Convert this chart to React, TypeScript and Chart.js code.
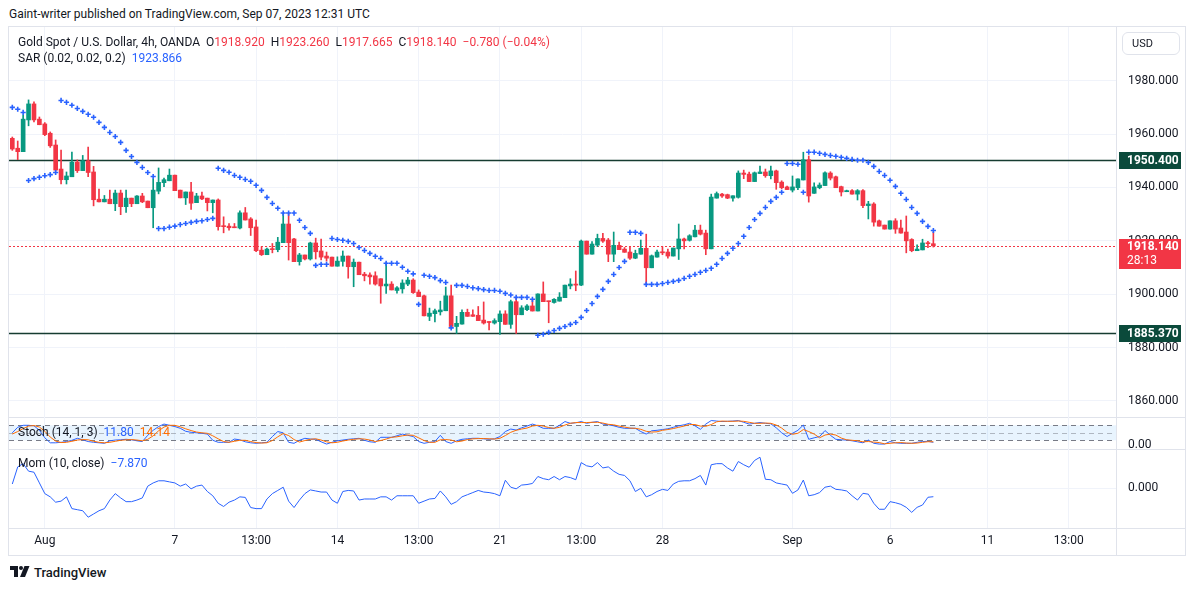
import React, { useEffect, useRef } from "react";
import { Chart, registerables } from "chart.js";
Chart.register(...registerables);

// ---------- data ----------
const opens = [
  1958.4, 1954.7, 1953.4, 1965.3, 1971.3, 1965.6, 1963.8, 1960.3, 1955.9, 1946.9,
  1942.9, 1944.0, 1949.5, 1946.3, 1950.0, 1945.8, 1935.6, 1934.6, 1935.6, 1933.9,
  1937.9, 1932.8, 1936.0, 1933.9, 1936.8, 1934.9, 1932.4, 1938.6, 1941.8, 1942.5,
  1944.6, 1939.0, 1936.1, 1938.3, 1934.3, 1936.8, 1936.0, 1934.3, 1935.3, 1925.5,
  1925.5, 1925.2, 1924.8, 1930.5, 1928.2, 1925.2, 1916.5, 1914.8, 1916.9, 1916.7,
  1919.3, 1926.3, 1920.7, 1912.2, 1914.7, 1913.2, 1919.2, 1916.2, 1914.3, 1913.9,
  1910.5, 1912.3, 1914.3, 1910.3, 1912.0, 1907.5, 1907.2, 1906.9, 1905.8, 1903.1,
  1903.8, 1901.4, 1902.0, 1903.8, 1905.3, 1900.8, 1899.4, 1891.7, 1892.7, 1893.4,
  1893.8, 1899.4, 1887.9, 1888.8, 1893.2, 1892.3, 1892.1, 1890.3, 1889.7, 1889.2,
  1889.7, 1892.6, 1888.7, 1897.2, 1892.3, 1894.2, 1895.6, 1893.7, 1900.1, 1897.4,
  1896.9, 1897.4, 1898.7, 1903.1, 1903.8, 1903.4, 1919.9, 1915.0, 1918.4, 1920.9,
  1920.3, 1915.0, 1918.3, 1916.9, 1915.8, 1913.5, 1915.0, 1917.2, 1909.9, 1913.9,
  1915.9, 1915.8, 1914.3, 1917.0, 1920.7, 1920.2, 1921.5, 1924.0, 1922.9, 1917.0,
  1936.0, 1937.5, 1937.3, 1936.0, 1936.3, 1945.4, 1945.0, 1942.2, 1945.2, 1945.8,
  1944.4, 1946.2, 1942.0, 1940.2, 1939.0, 1939.9, 1942.8, 1950.4, 1937.8, 1939.9,
  1940.7, 1945.4, 1944.0, 1940.3, 1938.4, 1938.8, 1937.5, 1938.8, 1933.2, 1933.8,
  1927.5, 1925.9, 1924.4, 1927.5, 1924.8, 1923.3, 1920.5, 1916.3, 1916.6, 1919.2,
  1918.92,
];
const highs = [
  1958.9, 1957.4, 1967.1, 1972.8, 1972.1, 1966.4, 1964.3, 1960.8, 1957.8, 1954.0,
  1945.8, 1953.3, 1950.3, 1952.0, 1955.1, 1947.9, 1939.4, 1937.0, 1939.0, 1939.0,
  1939.0, 1939.0, 1936.0, 1937.0, 1937.8, 1934.9, 1943.1, 1947.3, 1943.5, 1946.9,
  1944.6, 1939.0, 1938.3, 1941.9, 1937.8, 1938.3, 1936.0, 1935.3, 1935.7, 1929.0,
  1926.5, 1926.5, 1931.2, 1932.5, 1928.7, 1927.8, 1917.8, 1917.3, 1919.0, 1921.3,
  1930.3, 1930.3, 1920.9, 1915.3, 1914.7, 1919.5, 1921.0, 1920.7, 1915.8, 1913.9,
  1914.0, 1916.2, 1914.3, 1913.2, 1912.0, 1908.2, 1908.0, 1908.4, 1905.8, 1911.8,
  1904.7, 1902.9, 1905.4, 1906.3, 1905.8, 1901.6, 1899.7, 1894.8, 1894.4, 1897.4,
  1902.7, 1903.4, 1891.7, 1894.1, 1894.4, 1894.1, 1895.4, 1897.1, 1889.7, 1890.8,
  1893.8, 1893.8, 1897.8, 1898.7, 1895.7, 1896.1, 1897.8, 1900.1, 1904.6, 1897.4,
  1898.4, 1900.6, 1903.4, 1905.8, 1908.7, 1920.3, 1919.9, 1919.7, 1922.5, 1922.8,
  1920.9, 1923.3, 1919.5, 1917.5, 1917.8, 1916.5, 1920.3, 1922.5, 1914.7, 1916.5,
  1917.8, 1916.9, 1917.3, 1926.3, 1921.0, 1922.3, 1925.8, 1925.9, 1924.0, 1937.5,
  1938.3, 1937.8, 1937.5, 1936.9, 1946.2, 1946.5, 1945.8, 1945.8, 1948.0, 1946.9,
  1948.0, 1946.5, 1942.5, 1940.5, 1944.3, 1943.2, 1953.2, 1951.8, 1941.7, 1941.7,
  1945.9, 1945.9, 1944.3, 1940.5, 1939.0, 1939.2, 1939.2, 1939.2, 1934.8, 1934.3,
  1927.8, 1925.9, 1927.5, 1928.3, 1927.8, 1929.3, 1920.8, 1918.5, 1920.6, 1919.8,
  1923.26,
];
const lows = [
  1953.9, 1950.4, 1953.4, 1963.1, 1964.6, 1963.5, 1959.4, 1955.0, 1946.1, 1941.3,
  1941.3, 1944.0, 1945.6, 1946.3, 1944.0, 1933.1, 1934.6, 1934.6, 1933.9, 1931.3,
  1929.8, 1930.6, 1932.8, 1933.9, 1934.3, 1932.4, 1924.9, 1937.6, 1940.3, 1942.5,
  1938.8, 1936.1, 1933.6, 1931.8, 1934.3, 1935.4, 1931.2, 1930.5, 1924.0, 1923.0,
  1924.0, 1924.9, 1924.5, 1927.8, 1922.0, 1915.9, 1914.5, 1914.8, 1915.5, 1915.9,
  1919.3, 1912.8, 1912.2, 1910.9, 1912.8, 1912.8, 1913.2, 1912.8, 1912.4, 1910.5,
  1910.5, 1910.5, 1906.0, 1902.8, 1907.3, 1905.0, 1903.8, 1903.4, 1896.6, 1900.3,
  1901.6, 1900.4, 1900.4, 1903.2, 1900.3, 1899.1, 1891.9, 1890.1, 1889.6, 1892.2,
  1893.8, 1887.6, 1885.3, 1888.8, 1891.7, 1891.7, 1890.1, 1888.8, 1886.6, 1888.8,
  1884.9, 1888.7, 1887.2, 1885.3, 1892.3, 1893.8, 1893.7, 1893.7, 1897.2, 1889.3,
  1896.6, 1897.4, 1898.7, 1902.0, 1901.3, 1903.2, 1915.0, 1915.0, 1917.8, 1919.4,
  1912.2, 1912.2, 1916.7, 1915.7, 1913.0, 1913.3, 1915.0, 1903.7, 1909.9, 1913.9,
  1914.8, 1913.5, 1914.3, 1913.0, 1917.0, 1919.9, 1921.5, 1922.2, 1914.8, 1917.0,
  1936.0, 1936.3, 1935.8, 1934.9, 1936.0, 1943.3, 1942.2, 1942.2, 1945.2, 1943.8,
  1943.2, 1939.3, 1939.5, 1939.2, 1938.3, 1939.2, 1942.8, 1934.5, 1937.8, 1939.5,
  1940.7, 1942.8, 1939.9, 1936.8, 1938.4, 1937.5, 1935.3, 1932.4, 1928.2, 1925.5,
  1925.5, 1924.4, 1924.4, 1922.8, 1922.9, 1915.5, 1915.9, 1916.3, 1916.6, 1917.4,
  1917.665,
];
const closes = [
  1954.4, 1953.4, 1965.6, 1971.3, 1965.3, 1963.5, 1959.8, 1955.6, 1946.5, 1942.9,
  1944.3, 1949.5, 1946.3, 1950.0, 1945.6, 1935.4, 1934.6, 1935.6, 1933.9, 1937.9,
  1932.8, 1936.0, 1933.9, 1936.8, 1934.6, 1932.4, 1939.0, 1941.9, 1942.9, 1944.6,
  1938.8, 1936.1, 1938.3, 1934.1, 1936.8, 1935.7, 1934.3, 1935.3, 1925.3, 1925.3,
  1924.9, 1924.9, 1930.5, 1927.8, 1924.9, 1916.3, 1914.8, 1916.9, 1916.7, 1919.5,
  1926.3, 1919.3, 1912.2, 1914.7, 1913.2, 1919.2, 1915.9, 1913.9, 1913.5, 1910.5,
  1912.4, 1914.3, 1910.3, 1912.0, 1907.3, 1906.9, 1906.5, 1903.8, 1903.1, 1903.8,
  1901.6, 1902.4, 1904.2, 1905.3, 1900.6, 1899.1, 1891.9, 1892.9, 1893.8, 1894.1,
  1899.4, 1887.9, 1889.1, 1893.2, 1891.7, 1891.7, 1890.1, 1889.2, 1889.4, 1890.1,
  1892.6, 1888.7, 1897.2, 1892.3, 1894.9, 1895.6, 1893.7, 1900.1, 1897.2, 1897.2,
  1898.1, 1898.9, 1903.4, 1903.8, 1903.4, 1919.9, 1915.0, 1918.8, 1920.9, 1919.9,
  1915.0, 1918.3, 1916.7, 1915.7, 1913.5, 1915.3, 1917.2, 1909.9, 1914.4, 1915.8,
  1915.5, 1914.3, 1917.3, 1920.7, 1920.0, 1921.9, 1924.0, 1922.5, 1917.0, 1936.4,
  1937.7, 1936.8, 1936.0, 1936.9, 1945.4, 1944.9, 1942.2, 1945.5, 1945.8, 1944.4,
  1946.2, 1941.8, 1939.9, 1939.2, 1940.2, 1943.2, 1950.4, 1936.8, 1940.2, 1940.9,
  1945.5, 1943.5, 1939.9, 1938.3, 1938.8, 1937.5, 1938.8, 1933.2, 1933.8, 1927.0,
  1925.5, 1924.4, 1927.5, 1924.4, 1922.9, 1920.0, 1916.3, 1916.9, 1919.2, 1918.92,
  1918.14,
];
const sar = [
  1970.0, 1969.3, 1968.1, 1942.6, 1943.3, 1943.8, 1944.4, 1944.8, 1945.6, 1972.6,
  1971.9, 1970.8, 1969.6, 1968.5, 1967.4, 1966.3, 1964.4, 1962.5, 1960.6, 1959.1,
  1956.9, 1953.9, 1951.6, 1949.4, 1947.5, 1945.6, 1944.1, 1924.6, 1924.6, 1925.1,
  1925.5, 1926.1, 1926.5, 1926.9, 1927.3, 1927.5, 1928.0, 1928.4, 1947.2, 1946.4,
  1945.7, 1944.5, 1943.8, 1943.0, 1942.3, 1940.8, 1938.9, 1936.3, 1934.0, 1932.2,
  1930.4, 1930.4, 1930.4, 1927.7, 1925.0, 1922.8, 1910.8, 1911.2, 1911.2, 1920.9,
  1920.5, 1920.2, 1919.8, 1919.0, 1917.5, 1916.4, 1915.3, 1914.2, 1913.4, 1911.6,
  1911.6, 1911.6, 1910.1, 1908.6, 1907.6, 1896.2, 1907.1, 1906.7, 1906.2, 1905.1,
  1904.4, 1887.4, 1903.3, 1903.3, 1902.9, 1902.4, 1902.1, 1901.7, 1901.4, 1901.4,
  1901.1, 1900.3, 1899.7, 1898.8, 1898.8, 1898.8, 1898.1, 1884.6, 1885.0, 1885.7,
  1886.4, 1887.2, 1887.9, 1888.7, 1889.4, 1891.3, 1893.9, 1896.5, 1899.2, 1901.8,
  1904.8, 1907.4, 1910.0, 1912.3, 1923.2, 1923.2, 1922.8, 1903.7, 1903.7, 1903.7,
  1904.0, 1904.4, 1904.8, 1905.2, 1905.9, 1906.7, 1907.4, 1908.2, 1908.9, 1909.7,
  1911.2, 1913.4, 1915.3, 1917.2, 1919.0, 1921.7, 1925.0, 1928.0, 1930.3, 1932.5,
  1934.8, 1936.3, 1938.2, 1949.0, 1949.0, 1948.7, 1938.2, 1953.2, 1953.2, 1952.8,
  1952.4, 1952.0, 1951.7, 1951.3, 1950.9, 1950.5, 1950.2, 1950.2, 1949.4, 1947.9,
  1946.0, 1944.5, 1942.7, 1940.4, 1937.8, 1935.5, 1932.5, 1930.3, 1927.3, 1925.4,
  1923.866,
];
const stochK = [
  50, 72, 80, 80, 78, 60, 30, 10, 10, 12,
  15, 20, 28, 22, 15, 12, 10, 8, 18, 21,
  22, 24, 22, 18, 15, 40, 60, 75, 85, 80,
  75, 68, 56, 52, 50, 48, 45, 20, 12, 12,
  12, 25, 22, 14, 10, 8, 10, 12, 35, 55,
  50, 12, 8, 20, 28, 25, 24, 14, 5, 12,
  18, 21, 24, 26, 28, 20, 14, 12, 32, 32,
  32, 38, 45, 40, 35, 15, 8, 12, 15, 40,
  15, 8, 18, 24, 26, 28, 28, 26, 24, 26,
  35, 55, 65, 61, 70, 77, 85, 78, 68, 68,
  68, 80, 95, 88, 90, 95, 88, 92, 95, 85,
  82, 78, 72, 68, 68, 68, 55, 45, 58, 60,
  63, 66, 72, 78, 82, 88, 78, 64, 85, 99,
  97, 95, 96, 97, 99, 92, 85, 88, 91, 88,
  86, 70, 50, 35, 48, 60, 81, 24, 30, 35,
  59, 40, 24, 22, 21, 18, 14, 10, 21, 8,
  5, 5, 15, 10, 8, 8, 8, 12, 15, 16,
  11.8,
];
const stochD = [
  45, 55, 67, 77, 79, 73, 56, 33, 17, 11,
  12, 16, 21, 23, 22, 16, 12, 10, 12, 16,
  20, 22, 23, 21, 18, 24, 38, 58, 73, 80,
  80, 74, 66, 59, 53, 50, 48, 38, 26, 15,
  12, 16, 20, 20, 15, 11, 9, 10, 19, 34,
  47, 39, 23, 13, 19, 24, 26, 21, 14, 10,
  12, 17, 21, 24, 26, 25, 21, 15, 19, 25,
  32, 34, 38, 41, 40, 30, 19, 12, 12, 22,
  23, 21, 14, 17, 23, 26, 27, 27, 26, 25,
  28, 39, 52, 60, 65, 69, 77, 80, 77, 71,
  68, 72, 81, 88, 91, 91, 91, 92, 92, 89,
  84, 82, 77, 73, 69, 68, 64, 56, 53, 54,
  60, 63, 67, 72, 77, 83, 83, 77, 76, 83,
  94, 97, 96, 96, 97, 96, 92, 88, 88, 89,
  88, 81, 69, 52, 44, 48, 63, 55, 45, 30,
  41, 45, 41, 29, 22, 20, 18, 14, 15, 13,
  11, 6, 8, 10, 11, 9, 8, 9, 12, 14.3,
  14.14,
];
const mom = [
  4, 20, 23, 16, 15, 5, -5, -8, -13, -12,
  -8, -19, -20, -21, -27, -24, -21, -19, -11, -5,
  -9, -12.5, -12.5, -11, -9, 2, 5, 7, 7, 6,
  5, 2, 4, -0.5, 2, 3, -3, -7, -14, -17,
  -13, -11, -8, -8.5, -18, -19, -19, -10, -5, -2,
  1, -12, -18, -11, -5, -1.5, -2.5, -3.5, -3.5, -11,
  -14, -3, -2, -2.5, -11, -10, -10, -10, -8, -8,
  -11, -7, -7, -7, -7, -14, -12, -10, -9.5, -2.5,
  -8, -15, -12.5, -8, -6, -4, -2, -3.5, -4, -5,
  -7, 7.5, 1, -0.5, 3, 3.5, 4.5, 11, 9, 8,
  11, 8, 11, 10, 8, 24, 21, 20, 24, 19,
  20, 16, 13, 12, 7, -3, 0, -8, -6, -3,
  -1, -2, 4, 6.5, 7, 7, 9, 12, 3, 22,
  23, 23, 19, 16, 25, 22, 19.6, 26, 29, 8.4,
  8, 5, 4, 3, -4.7, -1.6, 7.7, -7, -6, -4,
  1, 2, -1, -1.5, -2.5, -7, -11, -4.7, -5.5, -14,
  -19.6, -19.6, -12.5, -13.5, -15, -17.8, -22.5, -17.8, -15.6, -8.4,
  -7.87,
];
const timeTickIndex = [6, 30, 45, 60, 75, 90, 105, 120, 144, 162, 180, 195];
const timeTickLabels = ["Aug", "7", "13:00", "14", "13:00", "21", "13:00", "28", "Sep", "6", "11", "13:00"];
const priceTicks = [1860, 1880, 1900, 1920, 1940, 1960, 1980];
const levels = [1950.4, 1885.37];
const stochLevels = [80, 50, 20];
const countdown = "28:13";

// ---------- styles ----------
const FONT = "Roboto, 'Noto Sans', sans-serif";
const UP = "#089981";
const DOWN = "#F23645";
const BLUE = "#2962FF";
const ORANGE = "#FF6D00";
const GRID = "#f0f3fa";
const TEXT = "#131722";
const LEVEL_LINE = "#163c31";
const LEVEL_BOX = "#0b4a3b";
const X_MIN = -0.61;
const X_MAX = 203.71;

const N = closes.length;
const IDX = Array.from({ length: N }, (_, i) => i);
const minus = (s: string) => s.replace("-", "\u2212");

const xTicks = (s: any) => {
  s.ticks = timeTickIndex.map((v) => ({ value: v }));
};

function zeroPad(s: any) {
  s.paddingLeft = 0;
  s.paddingRight = 0;
  s.paddingTop = 0;
  s.paddingBottom = 0;
}

function baseX(showLabels: boolean): any {
  return {
    type: "linear",
    min: X_MIN,
    max: X_MAX,
    offset: false,
    afterBuildTicks: xTicks,
    grid: { color: GRID, drawTicks: false, offset: false },
    border: { display: false },
    ticks: showLabels
      ? {
          autoSkip: false,
          maxRotation: 0,
          padding: 6,
          color: TEXT,
          font: { family: FONT, size: 12 },
          callback: (v: any) => timeTickLabels[timeTickIndex.indexOf(Number(v))] ?? "",
        }
      : { display: false },
    afterFit: (s: any) => {
      s.height = showLabels ? 28 : 0;
      zeroPad(s);
    },
  };
}

function baseY(min: number, max: number, ticks: number[], digits: number, grid: boolean): any {
  return {
    position: "right",
    min,
    max,
    afterBuildTicks: (s: any) => {
      s.ticks = ticks.map((v) => ({ value: v }));
    },
    ticks: {
      padding: 12,
      color: TEXT,
      font: { family: FONT, size: 12 },
      callback: (v: any) => Number(v).toFixed(digits),
    },
    grid: { display: grid, color: GRID, drawTicks: false },
    border: { display: false },
    afterFit: (s: any) => {
      s.width = 71;
      zeroPad(s);
    },
  };
}

function hDotted(ctx: any, x0: number, x1: number, y: number, color: string) {
  ctx.fillStyle = color;
  for (let x = x0; x < x1; x += 4) ctx.fillRect(x, y, 2, 1);
}

const levelsPlugin = {
  id: "levels",
  beforeDatasetsDraw(chart: any) {
    const { ctx, chartArea, scales } = chart;
    const y = scales.y;
    ctx.save();
    for (const lv of levels) {
      const py = Math.round(y.getPixelForValue(lv)) + 0.5;
      ctx.strokeStyle = LEVEL_LINE;
      ctx.lineWidth = 1.3;
      ctx.beginPath();
      ctx.moveTo(chartArea.left, py);
      ctx.lineTo(chartArea.right, py);
      ctx.stroke();
    }
    const last = closes[N - 1];
    const pl = Math.round(y.getPixelForValue(last));
    hDotted(ctx, chartArea.left, chartArea.right, pl, DOWN);
    ctx.restore();
  },
  afterDraw(chart: any) {
    const { ctx, chartArea, scales } = chart;
    const y = scales.y;
    const bx = chartArea.right + 3;
    ctx.save();
    ctx.textBaseline = "middle";
    ctx.textAlign = "left";
    for (const lv of levels) {
      const py = Math.round(y.getPixelForValue(lv));
      ctx.fillStyle = LEVEL_BOX;
      ctx.fillRect(bx, py - 8, 62, 17);
      ctx.fillStyle = "#ffffff";
      ctx.font = `bold 12px ${FONT}`;
      ctx.fillText(lv.toFixed(3), bx + 8, py + 0.5);
    }
    const last = closes[N - 1];
    const pl = Math.round(y.getPixelForValue(last));
    ctx.fillStyle = DOWN;
    ctx.fillRect(bx, pl - 7, 62, 30);
    ctx.fillStyle = "#ffffff";
    ctx.font = `bold 12px ${FONT}`;
    ctx.fillText(last.toFixed(3), bx + 8, pl + 1);
    ctx.font = `12px ${FONT}`;
    ctx.fillText(countdown, bx + 8, pl + 15);
    ctx.restore();
  },
};

const stochBandPlugin = {
  id: "stochBand",
  beforeDatasetsDraw(chart: any) {
    const { ctx, chartArea, scales } = chart;
    const y = scales.y;
    const top = y.getPixelForValue(stochLevels[0]);
    const bot = y.getPixelForValue(stochLevels[2]);
    ctx.save();
    ctx.fillStyle = "rgba(33,150,243,0.1)";
    ctx.fillRect(chartArea.left, top, chartArea.right - chartArea.left, bot - top);
    ctx.setLineDash([5, 4]);
    ctx.lineWidth = 1;
    stochLevels.forEach((lv, k) => {
      const py = Math.round(y.getPixelForValue(lv)) + 0.5;
      ctx.strokeStyle = k === 1 ? "rgba(120,123,134,0.5)" : "#787B86";
      ctx.beginPath();
      ctx.moveTo(chartArea.left, py);
      ctx.lineTo(chartArea.right, py);
      ctx.stroke();
    });
    ctx.restore();
  },
};

const common: any = {
  responsive: false,
  animation: false,
  events: [],
  layout: { padding: 0, autoPadding: false },
  plugins: { legend: { display: false }, tooltip: { enabled: false } },
};

export default function App() {
  const mainRef = useRef<HTMLCanvasElement>(null);
  const stochRef = useRef<HTMLCanvasElement>(null);
  const momRef = useRef<HTMLCanvasElement>(null);

  useEffect(() => {
    const colors = IDX.map((i) => (closes[i] >= opens[i] ? UP : DOWN));
    const main = new Chart(mainRef.current!, {
      type: "bar",
      data: {
        datasets: [
          {
            type: "bar",
            data: IDX.map((i) => ({ x: i, y: [lows[i], highs[i]] })) as any,
            backgroundColor: colors,
            barThickness: 1,
            grouped: false,
            order: 3,
          } as any,
          {
            type: "bar",
            data: IDX.map((i) => ({ x: i, y: [opens[i], closes[i]] })) as any,
            backgroundColor: colors,
            barThickness: 4,
            minBarLength: 1,
            grouped: false,
            order: 2,
          } as any,
          {
            type: "line",
            data: IDX.map((i) => ({ x: i, y: sar[i] })) as any,
            showLine: false,
            pointStyle: "cross",
            pointRadius: 2.6,
            pointBorderWidth: 1.6,
            pointBorderColor: BLUE,
            pointBackgroundColor: BLUE,
            order: 1,
          } as any,
        ],
      },
      options: {
        ...common,
        scales: {
          x: baseX(false),
          y: baseY(1853.99, 2000.12, priceTicks, 3, true),
        },
      },
      plugins: [levelsPlugin],
    });

    const stoch = new Chart(stochRef.current!, {
      type: "line",
      data: {
        datasets: [
          {
            data: IDX.map((i) => ({ x: i, y: stochK[i] })) as any,
            borderColor: BLUE,
            borderWidth: 1,
            pointRadius: 0,
            order: 2,
          },
          {
            data: IDX.map((i) => ({ x: i, y: stochD[i] })) as any,
            borderColor: ORANGE,
            borderWidth: 1,
            pointRadius: 0,
            order: 1,
          },
        ],
      },
      options: {
        ...common,
        scales: {
          x: baseX(false),
          y: baseY(-14.8, 113.2, [0], 2, false),
        },
      },
      plugins: [stochBandPlugin],
    });

    const momChart = new Chart(momRef.current!, {
      type: "line",
      data: {
        datasets: [
          {
            data: IDX.map((i) => ({ x: i, y: mom[i] })) as any,
            borderColor: BLUE,
            borderWidth: 1,
            pointRadius: 0,
          },
        ],
      },
      options: {
        ...common,
        scales: {
          x: baseX(true),
          y: baseY(-37.1, 36.7, [0], 3, true),
        },
      },
    });

    return () => {
      main.destroy();
      stoch.destroy();
      momChart.destroy();
    };
  }, []);

  const lastO = opens[N - 1];
  const lastH = highs[N - 1];
  const lastL = lows[N - 1];
  const lastC = closes[N - 1];
  const chg = lastC - closes[N - 2];
  const pct = (chg / closes[N - 2]) * 100;
  const valColor = chg >= 0 ? UP : DOWN;

  const abs = (l: number, t: number, extra: any = {}): React.CSSProperties => ({
    position: "absolute",
    left: l,
    top: t,
    ...extra,
  });
  const line = (l: number, t: number, w: number, h: number, c = "#e0e3eb") => (
    <div style={abs(l, t, { width: w, height: h, background: c })} />
  );
  const txt: React.CSSProperties = { fontFamily: FONT, fontSize: 12, lineHeight: "16px", color: TEXT, whiteSpace: "nowrap" };
  const gap = { marginLeft: 6 };

  return (
    <div style={{ position: "absolute", left: 0, top: 0, width: 1195, height: 589, background: "#fff", overflow: "hidden" }}>
      <div style={{ ...abs(9, 6), ...txt }}>Gaint-writer published on TradingView.com, Sep 07, 2023 12:31 UTC</div>

      {/* frame */}
      <div style={abs(8, 26, { width: 1178, height: 530, border: "1px solid #e0e3eb", boxSizing: "border-box" })} />
      {line(1116, 27, 1, 528)}
      {line(9, 417, 1177, 1)}
      {line(9, 449, 1177, 1)}
      {line(9, 528, 1177, 1)}

      <canvas ref={mainRef} width={1178} height={390} style={abs(9, 27, { width: 1178, height: 390 })} />
      <canvas ref={stochRef} width={1178} height={32} style={abs(9, 417, { width: 1178, height: 32 })} />
      <canvas ref={momRef} width={1178} height={107} style={abs(9, 449, { width: 1178, height: 107 })} />

      {/* legends */}
      <div style={{ ...abs(18, 34), ...txt }}>
        <span>Gold Spot / U.S. Dollar, 4h, OANDA</span>
        <span style={gap}>O</span>
        <span style={{ color: valColor }}>{lastO.toFixed(3)}</span>
        <span style={gap}>H</span>
        <span style={{ color: valColor }}>{lastH.toFixed(3)}</span>
        <span style={gap}>L</span>
        <span style={{ color: valColor }}>{lastL.toFixed(3)}</span>
        <span style={gap}>C</span>
        <span style={{ color: valColor }}>{lastC.toFixed(3)}</span>
        <span style={{ ...gap, color: valColor }}>
          {minus(chg.toFixed(3))} ({minus(pct.toFixed(2))}%)
        </span>
      </div>
      <div style={{ ...abs(18, 50), ...txt }}>
        <span>SAR (0.02, 0.02, 0.2)</span>
        <span style={{ ...gap, color: BLUE }}>{sar[N - 1].toFixed(3)}</span>
      </div>
      <div style={{ ...abs(18, 424), ...txt }}>
        <span>Stoch (14, 1, 3)</span>
        <span style={{ ...gap, color: BLUE }}>{stochK[N - 1].toFixed(2)}</span>
        <span style={{ ...gap, color: ORANGE }}>{stochD[N - 1].toFixed(2)}</span>
      </div>
      <div style={{ ...abs(18, 455), ...txt }}>
        <span>Mom (10, close)</span>
        <span style={{ ...gap, color: BLUE }}>{minus(mom[N - 1].toFixed(3))}</span>
      </div>

      {/* currency button */}
      <div
        style={abs(1122, 32, {
          width: 58,
          height: 23,
          border: "1px solid #e0e3eb",
          borderRadius: 6,
          boxSizing: "border-box",
          fontFamily: FONT,
          fontSize: 11,
          lineHeight: "21px",
          color: TEXT,
          paddingLeft: 9,
        })}
      >
        USD
      </div>

      {/* logo */}
      <div style={abs(10, 564, { display: "flex", alignItems: "center", height: 16 })}>
        <svg width="20" height="12" viewBox="0 0 20 12">
          <path d="M0 0h8v11H4V4H0z" fill={TEXT} />
          <circle cx="11" cy="2" r="2" fill={TEXT} />
          <path d="M14.5 0h5l-4.5 11h-5z" fill={TEXT} />
        </svg>
        <span style={{ fontFamily: FONT, fontSize: 13, fontWeight: 500, color: TEXT, marginLeft: 4 }}>TradingView</span>
      </div>
    </div>
  );
}
